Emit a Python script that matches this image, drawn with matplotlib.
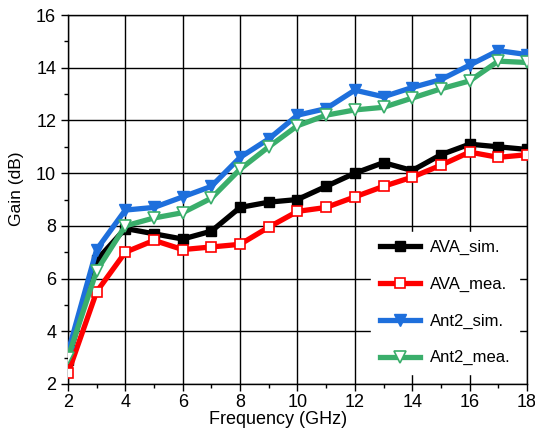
import numpy as np
import matplotlib.pyplot as plt
from matplotlib.ticker import MultipleLocator

# Data
freq = [2, 3, 4, 5, 6, 7, 8, 9, 10, 11, 12, 13, 14, 15, 16, 17, 18]
ava_sim = [2.9, 6.7, 7.9, 7.7, 7.5, 7.8, 8.7, 8.9, 9.0, 9.5, 10.0, 10.4, 10.1, 10.7, 11.1, 11.0, 10.9]
ava_mea = [2.4, 5.5, 7.0, 7.45, 7.1, 7.2, 7.3, 7.95, 8.55, 8.7, 9.1, 9.5, 9.85, 10.3, 10.8, 10.6, 10.7]
ant2_sim = [3.2, 7.1, 8.6, 8.7, 9.1, 9.5, 10.6, 11.3, 12.2, 12.45, 13.15, 12.9, 13.25, 13.55, 14.1, 14.65, 14.5]
ant2_mea = [3.0, 6.3, 8.0, 8.3, 8.5, 9.05, 10.15, 11.0, 11.8, 12.2, 12.4, 12.5, 12.85, 13.2, 13.5, 14.25, 14.2]

plt.rcParams['font.family'] = ['Liberation Sans', 'DejaVu Sans']

fig = plt.figure(figsize=(5.35, 4.30), dpi=100)
ax = fig.add_axes([0.127, 0.107, 0.858, 0.858])

lw = 3.8
ax.plot(freq, ava_sim, color='black', lw=lw, marker='s', ms=7, label='AVA_sim.', zorder=3)
ax.plot(freq, ava_mea, color='#ff0000', lw=lw, marker='s', ms=7, mfc='white', mec='#ff0000',
        mew=1.2, label='AVA_mea.', zorder=3)
ax.plot(freq, ant2_sim, color='#1e6fdc', lw=lw, marker='v', ms=8, label='Ant2_sim.', zorder=3)
ax.plot(freq, ant2_mea, color='#3aae6b', lw=lw, marker='v', ms=8, mfc='white', mec='#3aae6b',
        mew=1.2, label='Ant2_mea.', zorder=3)

ax.set_xlim(2, 18)
ax.set_ylim(2, 16)
ax.xaxis.set_major_locator(MultipleLocator(2))
ax.xaxis.set_minor_locator(MultipleLocator(1))
ax.yaxis.set_major_locator(MultipleLocator(2))
ax.yaxis.set_minor_locator(MultipleLocator(1))
ax.tick_params(which='major', direction='out', length=5, width=1, labelsize=13)
ax.tick_params(axis='x', which='major', pad=2)
ax.tick_params(which='minor', direction='out', length=3, width=1)
ax.grid(True, which='major', color='black', lw=1)
ax.set_axisbelow(True)
for s in ax.spines.values():
    s.set_linewidth(1)

ax.set_xlabel('Frequency (GHz)', fontsize=13)
ax.xaxis.set_label_coords(0.457, -0.073)
ax.set_ylabel('Gain (dB)', fontsize=12.5)
ax.yaxis.set_label_coords(-0.095, 0.53)

leg = ax.legend(loc='lower right', bbox_to_anchor=(1.0, 0.005), frameon=True, fontsize=12,
                handlelength=2.4, labelspacing=1.3, handletextpad=0.6, borderpad=0.5,
                fancybox=False, framealpha=1)
leg.get_frame().set_edgecolor('white')
leg.get_frame().set_facecolor('white')

fig.savefig('out.png', dpi=100)
